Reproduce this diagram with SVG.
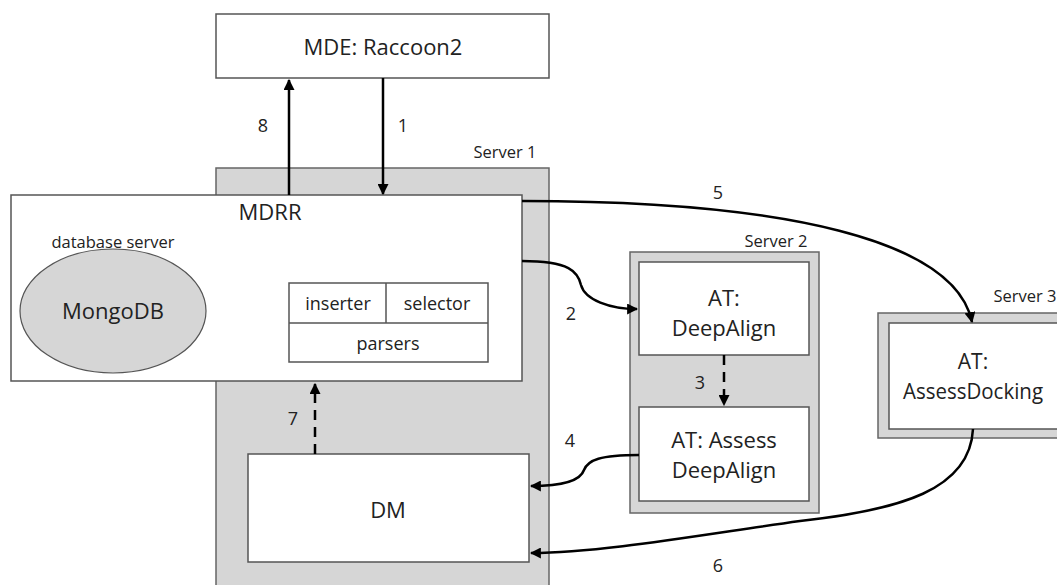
<svg xmlns="http://www.w3.org/2000/svg" width="1057" height="585" viewBox="0 0 1057 585">
<style>
text{font-family:"Open Sans","Liberation Sans",sans-serif;fill:#222;text-anchor:middle}
.t{font-size:22px}
.s{font-size:16.5px}
.n{font-size:18px}
.box{fill:#fff;stroke:#555;stroke-width:1.5}
.srv{fill:#d6d6d6;stroke:#666;stroke-width:1.5}
.c{fill:none;stroke:#000;stroke-width:2.5}
.d{fill:none;stroke:#000;stroke-width:2.5;stroke-dasharray:10,7}
</style>
<defs>
<marker id="ah" viewBox="0 0 10 10" refX="9" refY="5" markerWidth="4.4" markerHeight="4.4" orient="auto" markerUnits="strokeWidth">
<path d="M0,0 L10,5 L0,10 z" fill="#000"/>
</marker>
</defs>
<g id="server1">
<rect class="srv" x="216" y="168" width="333" height="430"/>
<text class="s" x="505" y="158">Server 1</text>
</g>
<g id="server2">
<rect class="srv" x="630" y="252" width="189" height="261"/>
<text class="s" x="776" y="247">Server 2</text>
</g>
<g id="server3">
<rect class="srv" x="878" y="313" width="190" height="125"/>
<text class="s" x="1025" y="302">Server 3</text>
</g>
<g id="mde">
<rect class="box" x="216" y="14" width="333" height="64"/>
<text class="t" x="383" y="55">MDE: Raccoon2</text>
</g>
<g id="mdrr">
<rect class="box" x="11" y="195" width="511" height="186"/>
<text class="t" x="270" y="220">MDRR</text>
<text class="s" x="113" y="248">database server</text>
<ellipse cx="113" cy="311" rx="93" ry="62" fill="#d6d6d6" stroke="#555" stroke-width="1.2"/>
<text class="t" x="113" y="319">MongoDB</text>
<rect class="box" x="289" y="283" width="199" height="79"/>
<line x1="289" y1="323" x2="488" y2="323" stroke="#555" stroke-width="1.5"/>
<line x1="386" y1="283" x2="386" y2="323" stroke="#555" stroke-width="1.5"/>
<text class="n" x="338" y="310">inserter</text>
<text class="n" x="437" y="310">selector</text>
<text class="n" x="388" y="350">parsers</text>
</g>
<g id="deepalign">
<rect class="box" x="639" y="262" width="170" height="93"/>
<text class="t" x="724" y="306">AT:</text>
<text class="t" x="724" y="336">DeepAlign</text>
</g>
<g id="assessdeepalign">
<rect class="box" x="639" y="407" width="170" height="94"/>
<text class="t" x="724" y="448">AT: Assess</text>
<text class="t" x="724" y="478">DeepAlign</text>
</g>
<g id="assessdocking">
<rect class="box" x="889" y="323" width="180" height="106"/>
<text x="973" y="369" style="font-size:21px">AT:</text>
<text x="973" y="399" style="font-size:21px" textLength="140" lengthAdjust="spacingAndGlyphs">AssessDocking</text>
</g>
<g id="dm">
<rect class="box" x="248" y="454" width="281" height="108"/>
<text class="t" x="388" y="518">DM</text>
</g>
<g id="connectors">
<line class="c" x1="289" y1="195" x2="289" y2="80" marker-end="url(#ah)"/>
<line class="c" x1="383" y1="78" x2="383" y2="194" marker-end="url(#ah)"/>
<path class="c" d="M522,201 C785,201 955,240 972,322" marker-end="url(#ah)"/>
<path class="c" d="M522,261 C570,261 578,272 581,285 C585,300 610,309 637,309" marker-end="url(#ah)"/>
<line class="d" x1="724" y1="355" x2="724" y2="405" marker-end="url(#ah)"/>
<path class="c" d="M639,455 C600,455 588,460 584,470 C580,482 560,486 531,486" marker-end="url(#ah)"/>
<path class="c" d="M973,429 C970,490 900,510 800,521 C700,535 600,553 531,553" marker-end="url(#ah)"/>
<line class="d" x1="315" y1="454" x2="315" y2="384" marker-end="url(#ah)"/>
<text class="n" x="263" y="132">8</text>
<text class="n" x="403" y="132">1</text>
<text class="n" x="718" y="199">5</text>
<text class="n" x="571" y="320">2</text>
<text class="n" x="700" y="389">3</text>
<text class="n" x="570" y="447">4</text>
<text class="n" x="718" y="572">6</text>
<text class="n" x="293" y="425">7</text>
</g>
</svg>
